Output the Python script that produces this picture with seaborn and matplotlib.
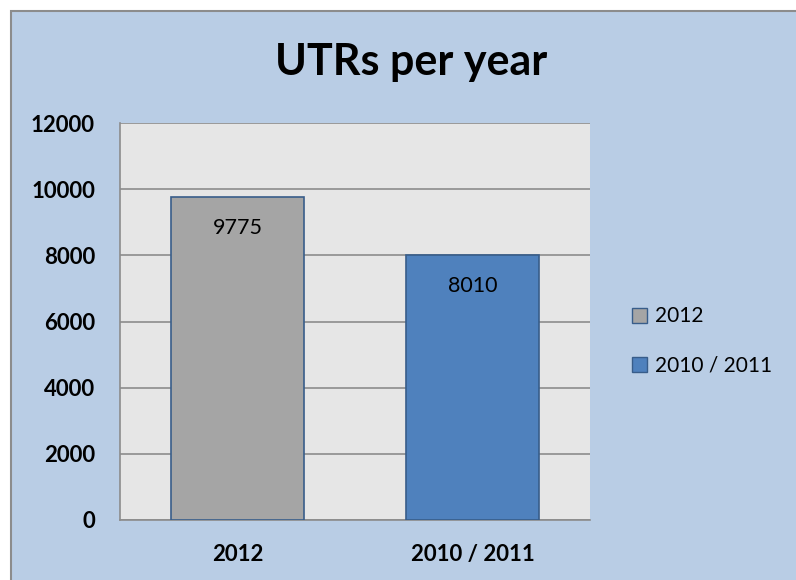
import pandas as pd
import matplotlib.pyplot as plt
import seaborn as sns
from matplotlib.patches import Rectangle, Patch

# data
categories = ['2012', '2010 / 2011']
utrs = [9775, 8010]
bar_colors = ['#A5A5A5', '#4F81BD']
y_ticks = [0, 2000, 4000, 6000, 8000, 10000, 12000]

df = pd.DataFrame({'period': categories, 'utrs': utrs})

sns.set_style('white')
plt.rcParams['font.family'] = ['Lato', 'DejaVu Sans']
plt.rcParams['text.color'] = 'black'
plt.rcParams['xtick.color'] = 'black'
plt.rcParams['ytick.color'] = 'black'

fig = plt.figure(figsize=(7.96, 5.8), dpi=100)
fig.patch.set_facecolor('white')

# chart area background with grey border (extends past the image edge)
W, H = 796, 580
bg = Rectangle((11 / W, -0.05), 1.1, 1 - 11 / H + 0.05,
               transform=fig.transFigure, facecolor='#B9CDE5',
               edgecolor='#8C8C8C', linewidth=1.5, zorder=-5)
fig.patches.append(bg)

ax = fig.add_axes([120 / W, 1 - 520 / H, 470 / W, (520 - 123) / H])
ax.set_facecolor('#E6E6E6')

sns.barplot(data=df, x='period', y='utrs', hue='period', palette=bar_colors,
            width=0.57, edgecolor='#385D8A', linewidth=1.2, legend=False,
            saturation=1, ax=ax, zorder=3)

ax.set_ylim(0, 12000)
ax.set_xlim(-0.5, 1.5)
ax.set_yticks(y_ticks)
ax.set_yticklabels([str(t) for t in y_ticks], fontsize=16, fontweight='bold')
ax.set_xticks(range(len(categories)))
ax.set_xticklabels(categories, fontsize=16, fontweight='bold')
ax.tick_params(axis='both', length=0)
ax.tick_params(axis='y', pad=18)
ax.tick_params(axis='x', pad=17)
ax.set_xlabel('')
ax.set_ylabel('')

ax.yaxis.grid(True, color='#8C8C8C', linewidth=1.2, zorder=1)
ax.set_axisbelow(True)
for s in ['top', 'right']:
    ax.spines[s].set_visible(False)
for s in ['left', 'bottom']:
    ax.spines[s].set_color('#8C8C8C')
    ax.spines[s].set_linewidth(1.2)

# value labels inside bars
for i, v in enumerate(utrs):
    ax.text(i, v - 950, str(v), ha='center', va='center', fontsize=15.5,
            color='black', zorder=4)

fig.text(411 / W, 1 - 62 / H, 'UTRs per year', ha='center', va='center',
         fontsize=31, fontweight='bold', color='black')

handles = [Patch(facecolor=c, edgecolor='#385D8A', label=l)
           for c, l in zip(bar_colors, categories)]
fig.legend(handles=handles, loc='center left',
           bbox_to_anchor=(613 / W, 1 - 341 / H), frameon=False,
           fontsize=15, handlelength=0.75, handleheight=0.75,
           handletextpad=0.35, labelspacing=1.4, labelcolor='black')

fig.savefig('out.png', dpi=100)
